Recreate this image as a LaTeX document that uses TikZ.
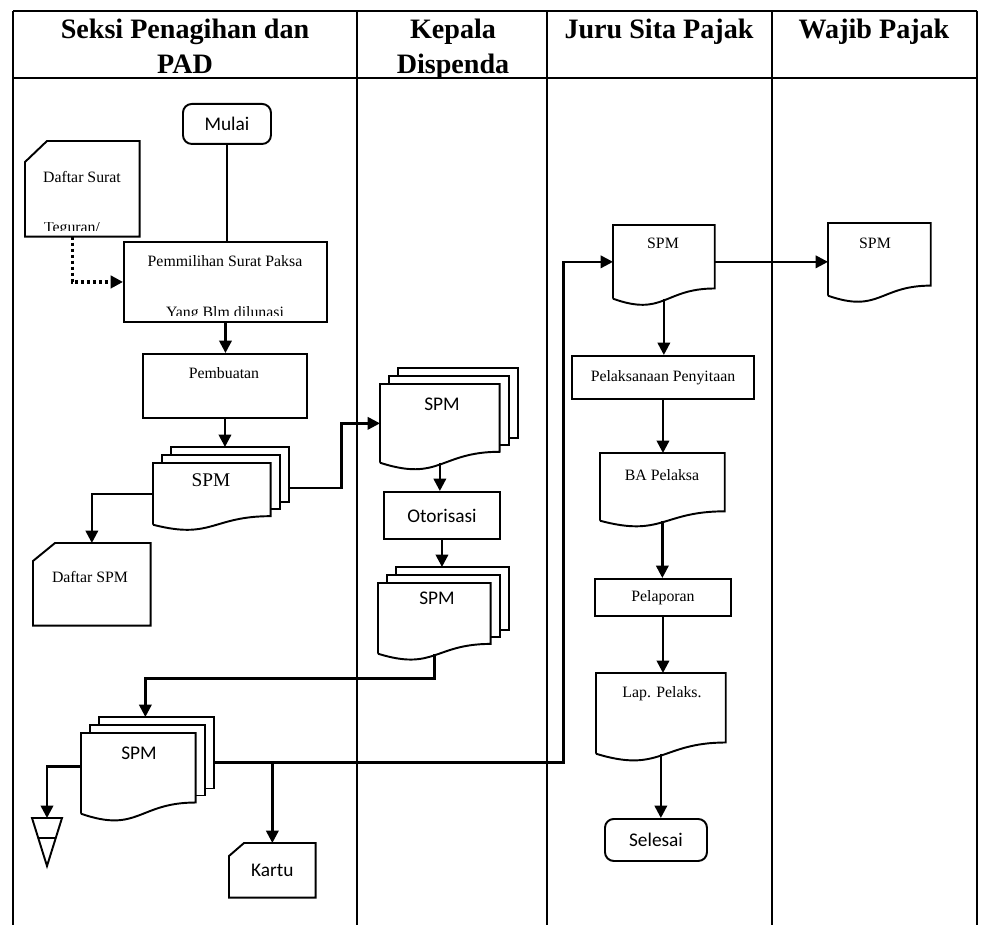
\documentclass[tikz,border=0pt]{standalone}
\usepackage{fontspec}
\setmainfont{Liberation Serif}
\newfontfamily\calibri{Carlito}
\usetikzlibrary{arrows.meta,calc,positioning}

\tikzset{
  lane/.style={line width=0.8pt},
  wh/.style 2 args={minimum width=#1*0.02cm, minimum height=#2*0.02cm},
  ghost/.style={inner sep=0pt, anchor=north west},
  box/.style={draw, line width=1.1pt, inner sep=0pt, anchor=north west, font=\fontsize{9}{11}\selectfont},
  term/.style={box, rounded corners=5pt, font=\calibri\fontsize{11}{13}\selectfont},
  lbl/.style={inner sep=0pt, font=\fontsize{9}{11}\selectfont},
  lblc/.style={inner sep=0pt, font=\calibri\fontsize{11}{13}\selectfont},
  head/.style={inner sep=0pt, anchor=north, align=center, font=\bfseries\fontsize{16}{19.5}\selectfont},
  flow/.style={line width=1.4pt, -{Triangle[length=7pt,width=7pt]}},
  link/.style={line width=1.4pt},
  dotflow/.style={flow, line width=1.8pt, dash pattern=on 2pt off 1.4pt},
}

% page with a wavy lower edge: node, height in px
\newcommand\docline[2]{%
  \draw[line width=1.1pt] (#1.south west) -- (#1.north west) -- (#1.north east)
    -- ($(#1.south east)+(0,-0.14*#2)$)
    .. controls ($(#1.south)+(0,-0.14*#2)$) and ($(#1.south)+(0,0.25*#2)$) .. (#1.south west);}
% three pages stacked
\newcommand\stackdoc[2]{%
  \draw[line width=1.1pt] ($(#1.north west)+(18,-8)$) -- ++(0,-8) -| ($(#1.south east)+(18,-0.14*#2-14)$) -- ++(-9,0);
  \draw[line width=1.1pt] ($(#1.north west)+(9,0)$) -- ++(0,-8) -| ($(#1.south east)+(9,-0.14*#2-7)$) -- ++(-9,0);
  \docline{#1}{#2}
  \coordinate (#1t) at ($(#1.north)+(7,-16)$);}
% card with the top left corner cut off
\newcommand\cardline[3]{%
  \draw[line width=1.1pt] ($(#1.north west)+(#2,0)$) -- (#1.north east) -- (#1.south east)
    -- (#1.south west) -- ($(#1.north west)+(0,#3)$) -- cycle;}

\begin{document}
\begin{tikzpicture}[x=0.02cm, y=-0.02cm]
\useasboundingbox (0,0) rectangle (982,925);

% swimlanes
\foreach \x in {13,357,547,772,977}
  \draw[lane] (\x,11) -- (\x,925);
\draw[lane, line width=1.2pt] (13,11) -- (977,11) (13,78) -- (977,78);

\node[head] (h1) at (185,19) {Seksi Penagihan dan\\PAD};
\node[head] (h2) at (453,19) {Kepala\\Dispenda};
\node[head] (h3) at (659,19) {Juru Sita Pajak};
\node[head] (h4) at (874,19) {Wajib Pajak};

% Seksi Penagihan dan PAD
\node[term, wh={88}{40}] (mulai) at (182,103) {Mulai};

\node[ghost, wh={114}{95}] (dsurat) at (25,141) {};
\cardline{dsurat}{22}{21}
\node[lbl] (dsurat-a) at (82,177) {Daftar Surat};
\begin{scope}
  \clip ($(dsurat.south west)+(2,-14)$) rectangle ($(dsurat.south east)+(-2,-6)$);
  \node[lbl, anchor=base] (dsurat-b) at (72,233) {Teguran/};
\end{scope}

\node[box, wh={203}{80}] (pilih) at (123,241) {};
\node[lbl] (pilih-a) at (225,261) {Pemmilihan Surat Paksa};
\begin{scope}
  \clip ($(pilih.south west)+(2,-17)$) rectangle ($(pilih.south east)+(-2,-7)$);
  \node[lbl, anchor=base] (pilih-b) at (225,317) {Yang Blm dilunasi};
\end{scope}

\node[box, wh={164}{64}] (buat) at (142,353) {};
\node[lbl] (buat-a) at (224,373) {Pembuatan};

\node[ghost, wh={117}{61}] (spmA) at (153,463) {};
\stackdoc{spmA}{61}
\node[lbl, font=\fontsize{11}{13}\selectfont] (spmA-a) at (211,480) {SPM};

\node[ghost, wh={117}{82}] (dspm) at (33,543) {};
\cardline{dspm}{22}{18}
\node[lbl] (dspm-a) at (90,577) {Daftar SPM};

\node[ghost, wh={114}{80}] (spmF) at (81,733) {};
\stackdoc{spmF}{80}
\node[lblc] (spmF-a) at (139,753) {SPM};

\coordinate (arsip) at (47,818);
\draw[line width=1.1pt] ($(arsip)+(-15,0)$) -- ($(arsip)+(15,0)$) -- ($(arsip)+(0,48)$) -- cycle;
\draw[line width=1.1pt] ($(arsip)+(-9,20)$) -- ($(arsip)+(9,20)$);

\node[ghost, wh={86}{54}, font=\calibri\fontsize{11}{13}\selectfont] (kartu) at (229,843) {Kartu};
\cardline{kartu}{15}{13}

% Kepala Dispenda
\node[ghost, wh={119}{78}] (spmB) at (380,384) {};
\stackdoc{spmB}{78}
\node[lblc] (spmB-a) at (442,404) {SPM};

\node[box, wh={116}{47}, font=\calibri\fontsize{11}{13}\selectfont] (otor) at (383,491) {Otorisasi};

\node[ghost, wh={112}{70}] (spmC) at (378,583) {};
\stackdoc{spmC}{70}
\node[lblc] (spmC-a) at (437,598) {SPM};

% Juru Sita Pajak
\node[ghost, wh={101}{73}] (spmD) at (613,225) {};
\docline{spmD}{73}
\node[lbl] (spmD-a) at (663,243) {SPM};

\node[box, wh={182}{43}] (sita) at (571,355) {Pelaksanaan Penyitaan};

\node[ghost, wh={124}{67}] (bapel) at (600,453) {};
\docline{bapel}{67}
\node[lbl] (bapel-a) at (662,475) {BA Pelaksa};

\node[box, wh={136}{37}] (lapor) at (594,578) {Pelaporan};

\node[ghost, wh={129}{80}] (lappel) at (596,673) {};
\docline{lappel}{80}
\node[lbl] (lappel-a) at (662,694) {Lap. Pelaks.};

\node[term, wh={102}{42}] (selesai) at (604,818) {Selesai};

% Wajib Pajak
\node[ghost, wh={102}{72}] (spmE) at (828,223) {};
\docline{spmE}{72}
\node[lbl] (spmE-a) at (875,243) {SPM};

% connectors
\draw[link] (mulai.south) -- (mulai.south |- pilih.north);
\draw[dotflow] ($(dsurat.south)+(-10,0)$) |- (pilih.west);
\draw[flow] (pilih.south) -- (pilih.south |- buat.north);
\draw[flow] (buat.south) -- (buat.south |- spmAt);
\draw[flow] (spmA.west) -| (dspm.north);
\draw[flow] ($(spmA.east)+(18,-6)$) -- ++(53,0) |- (spmB.west);
\draw[flow] (spmB.south) -- (spmB.south |- otor.north);
\draw[flow] (otor.south) -- (otor.south |- spmCt);
\draw[flow] (spmC.south) -- ++(0,25) -| (spmFt);
\draw[flow] ($(spmF.west)+(0,-7)$) -| (arsip);
\coordinate (bus) at ($(spmF.east)+(18,-11)$);
\draw[flow] (bus) -- ++(350,0) |- (spmD.west);
\draw[flow] (bus -| kartu.north) -- (kartu.north);
\draw[flow] (spmD.east) -- (spmD.east -| spmE.west);
\draw[flow] (spmD.south) -- (spmD.south |- sita.north);
\draw[flow] (sita.south) -- (sita.south |- bapel.north);
\draw[flow] (bapel.south) -- (bapel.south |- lapor.north);
\draw[flow] (lapor.south) -- (lapor.south |- lappel.north);
\draw[flow] (lappel.south) -- (lappel.south |- selesai.north);

\end{tikzpicture}
\end{document}
